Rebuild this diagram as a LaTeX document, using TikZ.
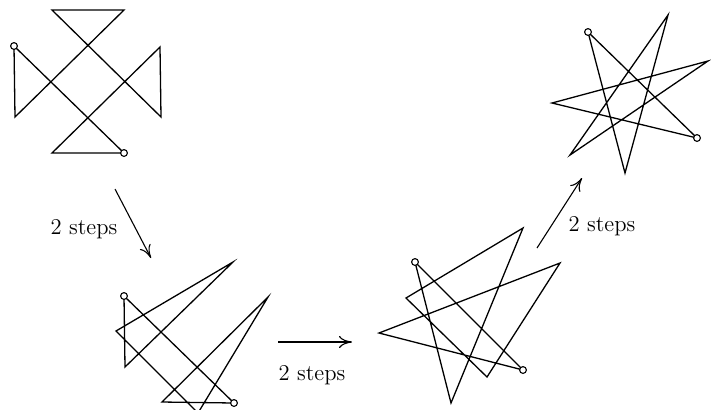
\documentclass[tikz,border=0pt]{standalone}
\usetikzlibrary{arrows.meta}
\tikzset{
  walk/.style={line width=0.65pt},
  endmark/.style={circle, draw, fill=white, inner sep=0pt, minimum size=3.4pt, line width=0.55pt},
  arr/.style={-{To[length=6.5pt, width=6pt]}, line width=0.55pt},
  steplbl/.style={font=\fontsize{11.3}{13}\selectfont},
}
\def\PicW{711}
\def\PicH{409}

\begin{document}
\begin{tikzpicture}[x=0.5pt, y=-0.5pt]
  \useasboundingbox (0,0) rectangle (\PicW,\PicH);
  \clip (0,0) rectangle (\PicW,\PicH);

  % ----- stage 1: cross (top left) -----
  \coordinate (A1) at (14,46);
  \coordinate (B1) at (15,117);
  \coordinate (C1) at (124,10);
  \coordinate (D1) at (52,10);
  \coordinate (E1) at (161,117);
  \coordinate (F1) at (160,47);
  \coordinate (G1) at (52,153);
  \coordinate (H1) at (124,153);
  \draw[walk] (A1) -- (B1) -- (C1) -- (D1) -- (E1) -- (F1) -- (G1) -- (H1) -- cycle;
  \node[endmark] (o1a) at (A1) {};
  \node[endmark] (o1h) at (H1) {};

  % ----- stage 2 (bottom left) -----
  \coordinate (A2) at (124,296);
  \coordinate (B2) at (125,367);
  \coordinate (C2) at (233,262);
  \coordinate (D2) at (116,331);
  \coordinate (E2) at (198,413);
  \coordinate (F2) at (268,297);
  \coordinate (G2) at (162,402);
  \coordinate (H2) at (234,403);
  \draw[walk] (A2) -- (B2) -- (C2) -- (D2) -- (E2) -- (F2) -- (G2) -- (H2) -- cycle;
  \node[endmark] (o2a) at (A2) {};
  \node[endmark] (o2h) at (H2) {};

  % ----- stage 3 (bottom right) -----
  \coordinate (A3) at (415,262);
  \coordinate (B3) at (451,403);
  \coordinate (C3) at (523,228);
  \coordinate (D3) at (406,298);
  \coordinate (E3) at (487,377);
  \coordinate (F3) at (560,263);
  \coordinate (G3) at (379,333);
  \coordinate (H3) at (523,370);
  \draw[walk] (A3) -- (B3) -- (C3) -- (D3) -- (E3) -- (F3) -- (G3) -- (H3) -- cycle;
  \node[endmark] (o3a) at (A3) {};
  \node[endmark] (o3h) at (H3) {};

  % ----- stage 4: star (top right) -----
  \coordinate (A4) at (588,32);
  \coordinate (B4) at (625,173);
  \coordinate (C4) at (668,15);
  \coordinate (D4) at (570,155);
  \coordinate (E4) at (708,61);
  \coordinate (F4) at (552,103);
  \coordinate (G4) at (697,138);
  \draw[walk] (A4) -- (B4) -- (C4) -- (D4) -- (E4) -- (F4) -- (G4) -- cycle;
  \node[endmark] (o4a) at (A4) {};
  \node[endmark] (o4g) at (G4) {};

  % ----- arrows between stages -----
  \coordinate (s1from) at (115,189);
  \coordinate (s1to) at (151,258);
  \draw[arr] (s1from) -- (s1to);
  \node[steplbl] (lbl1) at (84,229) {2 steps};

  \coordinate (s2from) at (278,342);
  \coordinate (s2to) at (352,342);
  \draw[arr] (s2from) -- (s2to);
  \node[steplbl] (lbl2) at (312,375) {2 steps};

  \coordinate (s3from) at (537,248);
  \coordinate (s3to) at (582,178);
  \draw[arr] (s3from) -- (s3to);
  \node[steplbl] (lbl3) at (602,226) {2 steps};
\end{tikzpicture}
\end{document}
